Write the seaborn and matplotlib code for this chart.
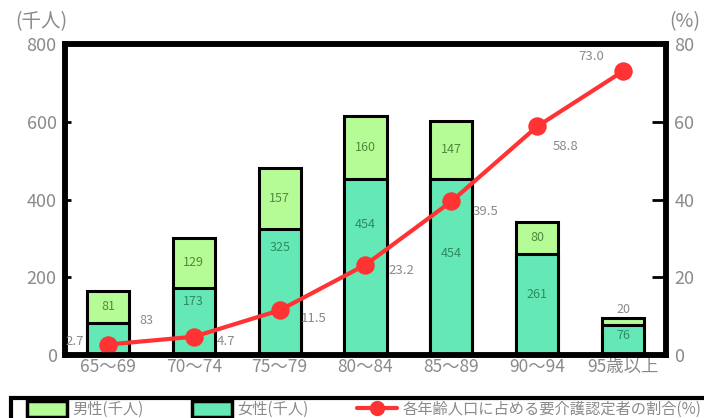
import matplotlib
matplotlib.use("Agg")
import matplotlib.pyplot as plt
import seaborn as sns
import pandas as pd
from matplotlib.patches import Patch, Rectangle
from matplotlib.lines import Line2D

categories = ["65～69", "70～74", "75～79", "80～84", "85～89", "90～94", "95歳以上"]
male = [81, 129, 157, 160, 147, 80, 20]
female = [83, 173, 325, 454, 454, 261, 76]
pct = [2.7, 4.7, 11.5, 23.2, 39.5, 58.8, 73.0]
left_ticks = [0, 200, 400, 600, 800]
right_ticks = [0, 20, 40, 60, 80]
legend_labels = ["男性(千人)", "女性(千人)", "各年齢人口に占める要介護認定者の割合(%)"]

sns.set_theme(style="white")
plt.rcParams['font.family'] = ['Noto Sans CJK JP', 'DejaVu Sans']

GREEN_L = "#b6fc96"
GREEN_T = "#64e8b6"
RED = "#ff3333"
GRAY = "#8a8a8a"

df = pd.DataFrame({"cat": categories, "male": male, "female": female,
                   "total": [m + f for m, f in zip(male, female)], "pct": pct})

fig = plt.figure(figsize=(7.04, 4.18), dpi=100)
ax = fig.add_axes([65/704, 1-355/418, (666-65)/704, (355-44)/418])

sns.barplot(data=df, x="cat", y="total", color=GREEN_L, saturation=1, width=0.49,
            edgecolor="black", linewidth=2.2, ax=ax, order=categories)
sns.barplot(data=df, x="cat", y="female", color=GREEN_T, saturation=1, width=0.49,
            edgecolor="black", linewidth=2.2, ax=ax, order=categories)
ax.set_ylim(0, 800)
ax.set_xlim(-0.5, len(categories) - 0.5)
ax.set_yticks(left_ticks)
ax.set_yticklabels([str(t) for t in left_ticks], color=GRAY, fontsize=13)
ax.set_xticks(range(len(categories)))
ax.set_xticklabels(categories, color=GRAY, fontsize=12.5)
ax.set_xlabel("")
ax.set_ylabel("")
ax.tick_params(axis='x', length=0, pad=2)
ax.tick_params(axis='y', direction='in', length=4, width=2, color='black', pad=6)
ax.set_xticks([i + 0.5 for i in range(len(categories) - 1)], minor=True)
ax.tick_params(axis='x', which='minor', direction='in', length=5, width=2, color='black')
for s in ax.spines.values():
    s.set_linewidth(4)
    s.set_color('black')

# bar labels (vertical spots)
female_label_y = [None, 137, 276, 335, 261, 155, 49]
for i, (m, f) in enumerate(zip(male, female)):
    if i == 6:
        ax.text(i, m + f + 22, str(m), ha='center', va='center', fontsize=9, color=GRAY)
    else:
        ax.text(i, f + m / 2, str(m), ha='center', va='center', fontsize=9, color="#4e8a3e")
    if i == 0:
        ax.text(i + 0.45, f + 5, str(f), ha='center', va='center', fontsize=9, color=GRAY)
    else:
        ax.text(i, female_label_y[i], str(f), ha='center', va='center', fontsize=9, color="#2f8a62")

ax2 = ax.twinx()
sns.pointplot(data=df, x="cat", y="pct", color=RED, markers='o', linestyles='-',
              ax=ax2, order=categories, markersize=11, linewidth=3)
ax2.set_ylim(0, 80)
ax2.set_xlim(-0.5, len(categories) - 0.5)
ax2.set_yticks(right_ticks)
ax2.set_yticklabels([str(t) for t in right_ticks], color=GRAY, fontsize=13)
ax2.set_ylabel("")
ax2.set_xlabel("")
ax2.tick_params(axis='y', direction='in', length=10, width=2, color='black', pad=6)
for s in ax2.spines.values():
    s.set_linewidth(4)
    s.set_color('black')

offsets = [(-33, 3), (32, -5), (34, -8), (36, -6), (34, -10), (28, -20), (-32, 15)]
for i, (p, off) in enumerate(zip(pct, offsets)):
    ax2.annotate(f"{p:.1f}", (i, p), xytext=off, textcoords='offset pixels',
                 ha='center', va='center', fontsize=9.5, color=GRAY)

fig.text(15/704, 1-22/418, "(千人)", ha='left', va='center', fontsize=14, color=GRAY)
fig.text(700/704, 1-22/418, "(%)", ha='right', va='center', fontsize=14, color=GRAY)

# legend frame (extends past the bottom/right edge as in the reference)
fig.patches.append(Rectangle((11/704, -0.05), 0.99, 0.05 + (418-398)/418, transform=fig.transFigure,
                             facecolor='none', edgecolor='black', linewidth=3, clip_on=False))

handles = [Patch(facecolor=GREEN_L, edgecolor='black', linewidth=2.5),
           Patch(facecolor=GREEN_T, edgecolor='black', linewidth=2.5),
           Line2D([0], [0], color=RED, lw=3, marker='o', markersize=10)]
leg = fig.legend(handles, legend_labels, loc='upper left', ncol=3,
                 bbox_to_anchor=(27/704, 1-401/418), frameon=False,
                 fontsize=11, handlelength=2.6, handleheight=1.2, handletextpad=0.35,
                 columnspacing=3.2, borderaxespad=0, borderpad=0)
for t in leg.get_texts():
    t.set_color(GRAY)

fig.savefig("out.png", dpi=100)
